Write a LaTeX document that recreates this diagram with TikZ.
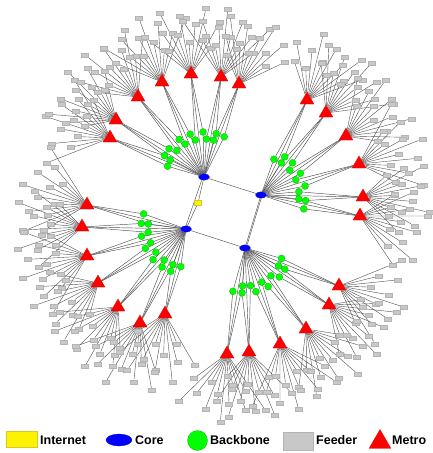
\documentclass[tikz,border=0pt]{standalone}
\usepackage{fontspec}
\setmainfont{Liberation Sans}
\usetikzlibrary{shapes.geometric,calc}
\pgfdeclarelayer{bg}
\pgfsetlayers{bg,main}
\definecolor{feedgray}{RGB}{200,200,200}
\definecolor{linegray}{RGB}{80,80,80}
\begin{document}
\begin{tikzpicture}[x=1pt,y=-1pt,
  feeder/.style={rectangle,fill=feedgray,draw=feedgray!90!black,line width=0.2pt,minimum width=7pt,minimum height=4pt,inner sep=0pt},
  metro/.style={regular polygon,regular polygon sides=3,fill=red,draw=red!85!black,line width=0.3pt,minimum size=16pt,inner sep=0pt},
  backbone/.style={circle,fill=green,draw=green!60!black,line width=0.2pt,minimum size=7pt,inner sep=0pt},
  core/.style={ellipse,fill=blue,draw=blue!70!black,line width=0.2pt,minimum width=11pt,minimum height=6.5pt,inner sep=0pt},
  internet/.style={rectangle,fill=yellow,draw=yellow!80!black,line width=0.2pt,minimum width=7pt,minimum height=5pt,inner sep=0pt},
  link/.style={draw=linegray,line width=0.45pt},
  flink/.style={draw=linegray,line width=0.4pt},
  legtext/.style={anchor=west,inner sep=0pt,font=\fontsize{12.5}{14}\selectfont\bfseries}
]
\useasboundingbox (0,0) rectangle (432,453);
\node[core] (C1) at (204,177) {};
\node[core] (C2) at (261,195) {};
\node[core] (C3) at (186,229) {};
\node[core] (C4) at (245,248) {};
\node[internet] (I) at (198,203) {};
\def\metrolist{1/C1/110/138, 2/C1/116/120, 3/C1/138/97, 4/C1/162/82, 5/C1/191/74, 6/C1/221/77, 7/C1/239/84,
  8/C2/307/100, 9/C2/326/113, 10/C2/346/136, 11/C2/359/164, 12/C2/363/197, 13/C2/360/216,
  14/C3/87/205, 15/C3/82/227, 16/C3/87/256, 17/C3/98/283, 18/C3/118/307, 19/C3/140/323, 20/C3/165/314,
  21/C4/339/286, 22/C4/329/305, 23/C4/306/329, 24/C4/280/344, 25/C4/249/352, 26/C4/227/354}
\foreach \mk/\mc/\mx/\my in \metrolist {
  \node[metro] (M\mk) at (\mx,\my) {};
  \coordinate (X\mk) at ($(\mc)!2!(M\mk)$);
  \node[backbone] (G\mk-a) at ($(\mc)!38pt!6:(M\mk)$) {};
  \node[backbone] (G\mk-b) at ($(\mc)!45pt!-6:(M\mk)$) {};
  \foreach \fj in {0,...,11}{
    \pgfmathsetmacro\frad{32+9*mod(\fj*3+\mk,5)}
    \pgfmathsetmacro\fang{-44+8*\fj}
    \node[feeder] (F\mk-\fj) at ($(M\mk)!\frad pt!\fang:(X\mk)$) {};
  }
}
\begin{pgfonlayer}{bg}
\draw[link] (C1) -- (C2);
\draw[link] (C3) -- (C4);
\draw[link] (C1) -- (I) -- (C3);
\draw[link,transform canvas={xshift=-1.2pt}] (C1) -- (C3);
\draw[link] (C2) -- (C4);
\draw[link,transform canvas={xshift=1.2pt}] (C2) -- (C4);
\foreach \mk/\mc/\mx/\my in \metrolist {
  \draw[link] (\mc) -- (G\mk-a) -- (M\mk);
  \draw[link] (\mc) -- (G\mk-b) -- (M\mk);
  \draw[link] (\mc) -- (M\mk);
  \foreach \fj in {0,...,11}{
    \draw[flink] (M\mk) -- (F\mk-\fj);
  }
}
\end{pgfonlayer}
% legend
\node[internet,minimum width=31pt,minimum height=16pt] (LI) at (21.5,439) {};
\node[legtext] (TI) at (40,440) {Internet};
\node[core,minimum width=26pt,minimum height=12pt] (LC) at (119,440) {};
\node[legtext] (TC) at (135,440) {Core};
\node[backbone,minimum size=20pt] (LB) at (197.5,440.5) {};
\node[legtext] (TB) at (210,440) {Backbone};
\node[feeder,minimum width=30pt,minimum height=18pt] (LF) at (298,441.5) {};
\node[legtext] (TF) at (316,440) {Feeder};
\node[metro,minimum size=25pt] (LM) at (380,442) {};
\node[legtext] (TM) at (392,440) {Metro};
\end{tikzpicture}
\end{document}
